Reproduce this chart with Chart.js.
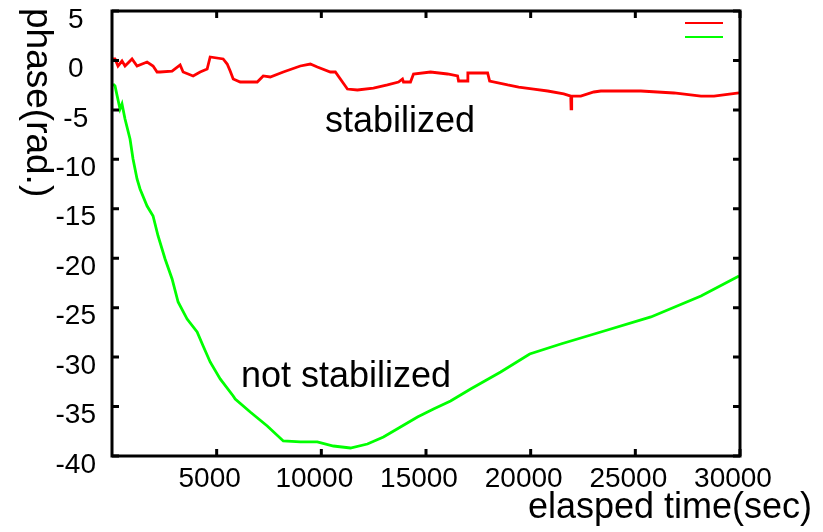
<!DOCTYPE html>
<html>
<head>
<meta charset="utf-8">
<title>phase vs elapsed time</title>
<script src="https://cdn.jsdelivr.net/npm/chart.js@4.4.1/dist/chart.umd.min.js"></script>
<style>
  html, body { margin: 0; padding: 0; background: #fff; }
  #wrap { width: 823px; height: 532px; position: relative; }
</style>
</head>
<body>
<div id="wrap"><canvas id="phaseChart" width="823" height="532"></canvas></div>
<script>
// Stabilized run (red)
const stabTime = [48, 144, 287, 478, 622, 957, 1196, 1675, 1962, 2153, 2297, 2871, 3254, 3397, 3876, 4211, 4546, 4689,
  5311, 5503, 5646, 5790, 6125, 6938, 7225, 7560, 8182, 8996, 9474, 9809, 10431, 10670, 11245, 11723, 12489, 13159,
  13685, 13876, 13924, 14259, 14403, 15216, 16030, 16508, 16556, 16987, 17000, 17944, 18040, 18901, 19427, 20145,
  20815, 21580, 21915, 21930, 21960, 22394, 23016, 23351, 25265, 26844, 28136, 28758, 29954];
const stabPhase = [0.15, 0.15, -0.56, -0.06, -0.56, 0.15, -0.56, -0.16, -0.56, -1.17, -1.17, -1.07, -0.46, -1.17, -1.57, -1.17, -0.87, 0.35,
  0.15, -0.36, -1.07, -1.88, -2.18, -2.18, -1.57, -1.67, -1.17, -0.56, -0.36, -0.66, -1.17, -1.17, -2.89, -2.99, -2.79, -2.48,
  -2.18, -1.88, -2.18, -2.18, -1.37, -1.17, -1.37, -1.57, -2.08, -2.08, -1.27, -1.27, -2.08, -2.48, -2.69, -2.89,
  -3.09, -3.39, -3.60, -4.90, -3.60, -3.60, -3.19, -3.09, -3.09, -3.29, -3.60, -3.60, -3.29];

// Not stabilized run (green)
const freeTime = [48, 144, 383, 478, 622, 861, 1005, 1196, 1340, 1675, 1962, 2201, 2536, 2871, 3158, 3589, 4067, 4354,
  4689, 5168, 5790, 5886, 6603, 7417, 8182, 8996, 9809, 10575, 11388, 12202, 12967, 13781, 14594, 15360, 16173,
  17131, 18566, 19953, 21437, 23351, 25744, 28136, 29954];
const freePhase = [-2.38, -2.58, -4.91, -4.40, -5.92, -7.94, -9.97, -11.99, -13.00, -14.72, -15.73, -17.75, -20.08, -22.10, -24.43, -26.15, -27.46, -28.88,
  -30.49, -32.21, -33.93, -34.24, -35.55, -36.97, -38.48, -38.58, -38.58, -38.99, -39.19, -38.79, -38.08, -37.07, -36.06, -35.25, -34.44,
  -33.22, -31.51, -29.68, -28.67, -27.46, -25.94, -23.82, -21.80];

const xTicks = [5000, 10000, 15000, 20000, 25000, 30000];
const yTicks = [5, 0, -5, -10, -15, -20, -25, -30, -35, -40];

const FONT = "'Liberation Sans', Arial, Helvetica, sans-serif";

document.addEventListener('DOMContentLoaded', function () {
  initChart();
});

function toPoints(xs, ys) {
  return xs.map(function (x, i) { return { x: x, y: ys[i] }; });
}

// gnuplot-like frame: full box, inward ticks on all sides, labels and legend samples
const framePlugin = {
  id: 'frame',
  afterDraw: function (chart) {
    const ctx = chart.ctx;
    const a = chart.chartArea;
    const xs = chart.scales.x;
    const ys = chart.scales.y;
    const tl = 7;

    ctx.save();
    ctx.strokeStyle = '#000';
    ctx.lineWidth = 3;
    ctx.strokeRect(a.left, a.top, a.right - a.left, a.bottom - a.top);

    ctx.beginPath();
    xTicks.forEach(function (v) {
      const px = xs.getPixelForValue(v);
      ctx.moveTo(px, a.bottom); ctx.lineTo(px, a.bottom - tl);
      ctx.moveTo(px, a.top); ctx.lineTo(px, a.top + tl);
    });
    yTicks.forEach(function (v) {
      const py = ys.getPixelForValue(v);
      ctx.moveTo(a.left, py); ctx.lineTo(a.left + tl, py);
      ctx.moveTo(a.right, py); ctx.lineTo(a.right - tl, py);
    });
    ctx.stroke();

    // legend samples (no titles)
    ctx.lineWidth = 2;
    chart.data.datasets.forEach(function (ds, i) {
      ctx.strokeStyle = ds.borderColor;
      ctx.beginPath();
      ctx.moveTo(685, 23 + i * 14);
      ctx.lineTo(723, 23 + i * 14);
      ctx.stroke();
    });

    // annotations and axis titles
    ctx.fillStyle = '#000';
    ctx.font = '36px ' + FONT;
    ctx.textBaseline = 'alphabetic';
    ctx.textAlign = 'center';
    ctx.fillText('stabilized', 400, 132);
    ctx.fillText('not stabilized', 346, 387);

    ctx.textAlign = 'right';
    ctx.fillText('elasped time(sec)', 812, 518);

    // y title reads top to bottom
    ctx.font = '37px ' + FONT;
    ctx.translate(27, 8);
    ctx.rotate(Math.PI / 2);
    ctx.textAlign = 'left';
    ctx.fillText('phase(rad.)', 0, 0);
    ctx.restore();
  }
};

function initChart() {
  const ctx = document.getElementById('phaseChart').getContext('2d');
  new Chart(ctx, {
    type: 'line',
    data: {
      datasets: [{
        label: 'stabilized',
        data: toPoints(stabTime, stabPhase),
        borderColor: '#ff0000',
        borderWidth: 2.8
      }, {
        label: 'not stabilized',
        data: toPoints(freeTime, freePhase),
        borderColor: '#00ff00',
        borderWidth: 2.8
      }]
    },
    options: {
      responsive: false,
      animation: false,
      layout: { padding: { left: 0, top: 11, right: 83, bottom: 0 } },
      elements: {
        point: { radius: 0 },
        line: { tension: 0 }
      },
      plugins: {
        legend: { display: false },
        tooltip: { enabled: false }
      },
      scales: {
        x: {
          type: 'linear',
          min: 0,
          max: 30000,
          grid: { display: false, drawTicks: false },
          border: { display: false },
          ticks: {
            stepSize: 5000,
            maxRotation: 0,
            padding: 6,
            labelOffset: -7,
            color: '#000',
            font: { family: FONT, size: 28 },
            callback: function (v) { return v === 0 ? '' : String(v); }
          },
          afterFit: function (scale) {
            scale.height = 76;
            scale.paddingLeft = 0;
            scale.paddingRight = 0;
          }
        },
        y: {
          type: 'linear',
          min: -40,
          max: 5,
          grid: { display: false, drawTicks: false },
          border: { display: false },
          ticks: {
            stepSize: 5,
            padding: 16,
            crossAlign: 'center',
            labelOffset: 9,
            color: '#000',
            font: { family: FONT, size: 28 }
          },
          afterFit: function (scale) {
            scale.width = 112;
            scale.paddingTop = 0;
            scale.paddingBottom = 0;
          }
        }
      }
    },
    plugins: [framePlugin]
  });
}
</script>
</body>
</html>
